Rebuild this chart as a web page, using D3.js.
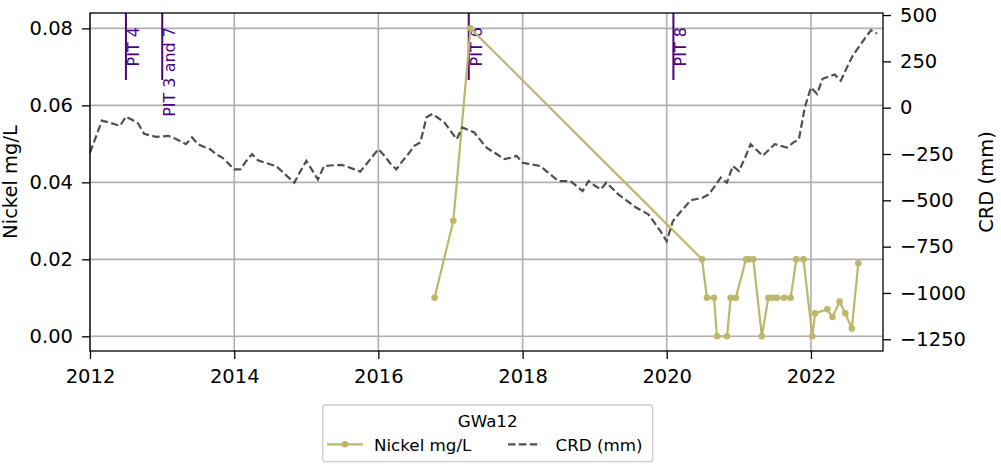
<!DOCTYPE html>
<html lang="en">
<head>
    <meta charset="UTF-8">
    <title>GWa12 Nickel and CRD</title>
    <script src="https://d3js.org/d3.v7.min.js"></script>
    <style>
        body { margin: 0; background: #fff; }
        text { font-family: "DejaVu Sans", sans-serif; }
    </style>
</head>
<body>
    <svg id="chart"></svg>

    <script>
        const width = 1001;
        const height = 473;
        const margin = { top: 13, right: 118, bottom: 122, left: 90 };

        // Nickel samples (mg/L)
        const nickelDates = [
            '2016-10-12', '2017-01-15', '2017-04-12', '2020-06-28', '2020-07-23',
            '2020-08-28', '2020-09-12', '2020-11-02', '2020-11-20', '2020-12-16',
            '2021-02-06', '2021-02-21', '2021-03-15', '2021-04-27', '2021-05-30',
            '2021-06-21', '2021-07-13', '2021-08-18', '2021-09-20', '2021-10-19',
            '2021-11-24', '2022-01-08', '2022-01-22', '2022-03-25', '2022-04-20',
            '2022-05-26', '2022-06-24', '2022-07-27', '2022-08-29'
        ];
        const nickelValues = [
            0.01, 0.03, 0.08, 0.02, 0.01,
            0.01, 0.0, 0.0, 0.01, 0.01,
            0.02, 0.02, 0.02, 0.0, 0.01,
            0.01, 0.01, 0.01, 0.01, 0.02,
            0.02, 0.0, 0.006, 0.007, 0.005,
            0.009, 0.006, 0.002, 0.019
        ];

        // CRD (mm), one value per month starting Jan 2012
        const crdStart = '2012-01-01';
        const crdValues = [
            -242, -155, -70, -78, -88, -98, -49, -65, -85, -141, -150, -157,
            -155, -152, -164, -180, -197, -161, -197, -212, -224, -251, -269, -300,
            -333, -333, -290, -251, -284, -295, -305, -315, -345, -375, -405, -345,
            -287, -340, -387, -315, -312, -310, -309, -320, -333, -345, -305, -265,
            -224, -260, -300, -333, -290, -250, -206, -188, -52, -34, -57, -80,
            -125, -170, -107, -120, -134, -175, -215, -236, -257, -278, -270, -260,
            -297, -303, -309, -315, -342, -369, -396, -396, -396, -423, -450, -396,
            -420, -441, -405, -436, -468, -492, -516, -540, -558, -577, -622, -667,
            -721, -613, -575, -537, -500, -493, -486, -468, -423, -378, -405, -315,
            -342, -270, -197, -228, -260, -228, -197, -206, -215, -190, -170, 2,
            110, 74, 156, 168, 179, 146, 214, 282, 328, 374, 418, 400
        ];

        // Pit markers
        const pitDates = ['2012-07-01', '2013-01-01', '2017-04-03', '2020-02-04'];
        const pitLabels = ['PIT 4', 'PIT 3 and 7', 'PIT 6', 'PIT 8'];

        const nickelTicks = [0, 0.02, 0.04, 0.06, 0.08];
        const crdTicks = [-1250, -1000, -750, -500, -250, 0, 250, 500];

        const parse = d3.timeParse('%Y-%m-%d');
        const nickel = nickelDates.map((d, i) => ({ date: parse(d), value: nickelValues[i] }));
        const crd = crdValues.map((v, i) => ({ date: d3.timeMonth.offset(parse(crdStart), i), value: v }));
        const pits = pitDates.map((d, i) => ({ date: parse(d), label: pitLabels[i] }));

        const x0 = margin.left, x1 = width - margin.right;
        const y0 = height - margin.bottom, y1 = margin.top;

        const x = d3.scaleTime()
            .domain([new Date(2012, 0, 1), new Date(2023, 0, 1)])
            .range([x0, x1]);
        const yLeft = d3.scaleLinear().domain([-0.004, 0.084]).range([y0 + 0.7, y1]);
        const yRight = d3.scaleLinear().domain([-1317, 511]).range([y0 + 0.7, y1]);

        const svg = d3.select('#chart')
            .attr('width', width)
            .attr('height', height);

        const fontSize = 19.5;

        // grid
        const grid = svg.append('g').attr('stroke', '#b0b0b0').attr('stroke-width', 1.6);
        grid.selectAll('line.h').data(nickelTicks).join('line')
            .attr('x1', x0).attr('x2', x1)
            .attr('y1', d => yLeft(d)).attr('y2', d => yLeft(d));
        const xTicks = x.ticks(d3.timeYear.every(2));
        grid.selectAll('line.v').data(xTicks).join('line')
            .attr('x1', d => x(d)).attr('x2', d => x(d))
            .attr('y1', y1).attr('y2', y0);

        // pit markers
        const pitG = svg.append('g');
        pitG.selectAll('line').data(pits).join('line')
            .attr('x1', d => x(d.date)).attr('x2', d => x(d.date))
            .attr('y1', y1).attr('y2', 80)
            .attr('stroke', 'indigo').attr('stroke-width', 2);
        pitG.selectAll('text').data(pits).join('text')
            .attr('transform', d => `translate(${x(d.date) + 13},27) rotate(-90)`)
            .attr('text-anchor', 'end')
            .attr('font-size', 16)
            .attr('fill', 'indigo')
            .text(d => d.label);

        // nickel line
        const nickelColor = '#bdb76b';
        svg.append('path')
            .datum(nickel)
            .attr('fill', 'none')
            .attr('stroke', nickelColor)
            .attr('stroke-width', 2.2)
            .attr('d', d3.line().x(d => x(d.date)).y(d => yLeft(d.value)));
        svg.append('g').selectAll('circle').data(nickel).join('circle')
            .attr('cx', d => x(d.date))
            .attr('cy', d => yLeft(d.value))
            .attr('r', 3.3)
            .attr('fill', nickelColor);

        // CRD dashed line
        const crdColor = '#4f4f4f';
        svg.append('path')
            .datum(crd)
            .attr('fill', 'none')
            .attr('stroke', crdColor)
            .attr('stroke-width', 2.2)
            .attr('stroke-dasharray', '7.5,3.4')
            .attr('d', d3.line().x(d => x(d.date)).y(d => yRight(d.value)));

        // axes
        const minus = d3.format('');
        const leftAxis = d3.axisLeft(yLeft).tickValues(nickelTicks).tickFormat(d3.format('.2f'))
            .tickSize(8).tickPadding(9);
        const rightAxis = d3.axisRight(yRight).tickValues(crdTicks).tickFormat(d => minus(d))
            .tickSize(8).tickPadding(9);
        const bottomAxis = d3.axisBottom(x).tickValues(xTicks).tickFormat(d3.timeFormat('%Y'))
            .tickSize(8).tickPadding(10);

        function styleAxis(g) {
            g.select('.domain').remove();
            g.selectAll('.tick line').attr('stroke', '#000').attr('stroke-width', 1.3);
            g.selectAll('.tick text').attr('font-size', fontSize).attr('fill', '#000')
                .attr('font-family', '"DejaVu Sans", sans-serif');
        }

        svg.append('g').attr('transform', `translate(${x0},0)`).call(leftAxis).call(styleAxis);
        svg.append('g').attr('transform', `translate(${x1},0)`).call(rightAxis).call(styleAxis);
        svg.append('g').attr('transform', `translate(0,${y0})`).call(bottomAxis).call(styleAxis);

        // spines
        svg.append('rect')
            .attr('x', x0).attr('y', y1)
            .attr('width', x1 - x0).attr('height', y0 - y1)
            .attr('fill', 'none').attr('stroke', '#000').attr('stroke-width', 1.3);

        // axis labels
        svg.append('text')
            .attr('transform', `translate(16.5,${(y0 + y1) / 2}) rotate(-90)`)
            .attr('text-anchor', 'middle')
            .attr('font-size', fontSize)
            .text('Nickel mg/L');
        svg.append('text')
            .attr('transform', `translate(993,${(y0 + y1) / 2}) rotate(-90)`)
            .attr('text-anchor', 'middle')
            .attr('font-size', fontSize)
            .text('CRD (mm)');

        // legend
        const legend = svg.append('g');
        legend.append('rect')
            .attr('x', 322.7).attr('y', 405)
            .attr('width', 330).attr('height', 56.7)
            .attr('rx', 3)
            .attr('fill', '#fff').attr('stroke', '#cccccc').attr('stroke-width', 1.3);
        legend.append('text')
            .attr('x', 487.7).attr('y', 427.3)
            .attr('text-anchor', 'middle')
            .attr('font-size', 16.7)
            .text('GWa12');
        legend.append('line')
            .attr('x1', 327).attr('x2', 363).attr('y1', 444.3).attr('y2', 444.3)
            .attr('stroke', nickelColor).attr('stroke-width', 2.2);
        legend.append('circle')
            .attr('cx', 345).attr('cy', 444.3).attr('r', 3.3).attr('fill', nickelColor);
        legend.append('text')
            .attr('x', 374).attr('y', 450.7)
            .attr('font-size', 16.7)
            .text('Nickel mg/L');
        legend.append('line')
            .attr('x1', 508).attr('x2', 541).attr('y1', 444.3).attr('y2', 444.3)
            .attr('stroke', crdColor).attr('stroke-width', 2.2)
            .attr('stroke-dasharray', '7.5,3.4');
        legend.append('text')
            .attr('x', 555.5).attr('y', 450.7)
            .attr('font-size', 16.7)
            .text('CRD (mm)');
    </script>
</body>
</html>
